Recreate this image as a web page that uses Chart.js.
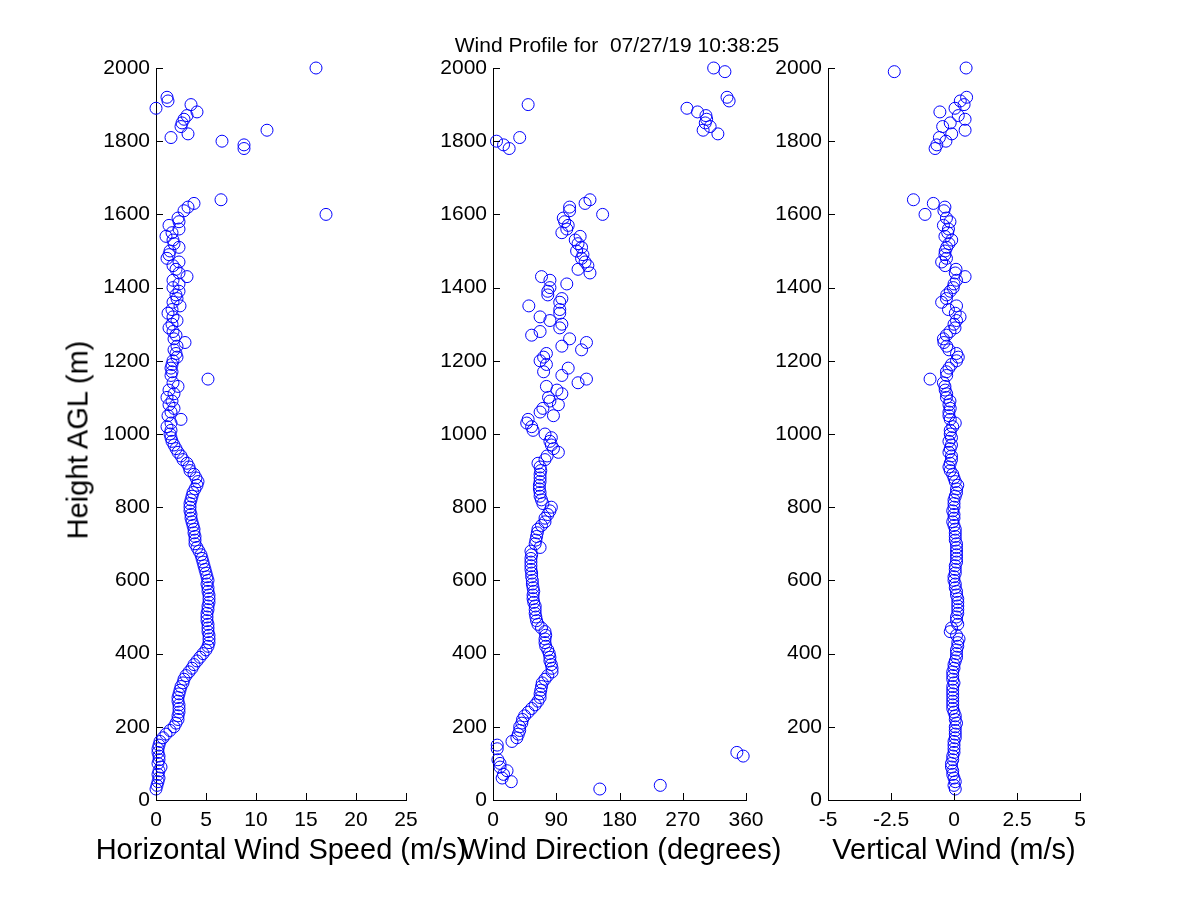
<!DOCTYPE html>
<html>
<head>
<meta charset="utf-8">
<title>Wind Profile</title>
<script src="https://cdn.jsdelivr.net/npm/chart.js@4/dist/chart.umd.min.js"></script>
<style>
  body { margin: 0; background: #fff; }
  #wrap { position: relative; width: 1200px; height: 900px; font-family: "Liberation Sans", Arial, sans-serif; color: #000; }
  #wrap canvas { position: absolute; left: 0; top: 0; }
  .lbl { position: absolute; white-space: pre; line-height: 1; }
  .main { font-size: 21px; top: 34px; left: 617px; transform: translateX(-50%); }
  .xt { font-size: 29px; top: 835px; transform: translateX(-50%); }
  .yt { font-size: 29px; left: 78px; top: 440px; transform: translate(-50%, -50%) rotate(-90deg); }
</style>
</head>
<body>
<div id="wrap">
  <canvas id="speedChart" width="1200" height="900"></canvas>
  <canvas id="dirChart" width="1200" height="900"></canvas>
  <canvas id="vertChart" width="1200" height="900"></canvas>
  <div class="lbl main">Wind Profile for  07/27/19 10:38:25</div>
  <div class="lbl yt">Height AGL (m)</div>
  <div class="lbl xt" style="left:281px">Horizontal Wind Speed (m/s)</div>
  <div class="lbl xt" style="left:621px">Wind Direction (degrees)</div>
  <div class="lbl xt" style="left:954px">Vertical Wind (m/s)</div>
</div>
<script>
// Heights of the profile (m)
const heights = [
  30, 40, 50, 60, 70, 80, 90, 100,
  110, 120, 130, 140, 150, 160, 170, 180, 190, 200,
  210, 220, 230, 240, 250, 260, 270, 280, 290, 300,
  310, 320, 330, 340, 350, 360, 370, 380, 390, 400,
  410, 420, 430, 440, 450, 460, 470, 480, 490, 500,
  510, 520, 530, 540, 550, 560, 570, 580, 590, 600,
  610, 620, 630, 640, 650, 660, 670, 680, 690, 700,
  710, 720, 730, 740, 750, 760, 770, 780, 790, 800,
  810, 820, 830, 840, 850, 860, 870, 880, 890, 900,
  910, 920, 930, 940, 950, 960, 970, 980, 990, 1000,
  1010, 1020, 1030, 1040, 1050, 1060, 1070, 1080, 1090, 1100,
  1110, 1120, 1130, 1140, 1150, 1160, 1170, 1180, 1190, 1200,
  1210, 1220, 1230, 1240, 1250, 1260, 1270, 1280, 1290, 1300,
  1310, 1320, 1330, 1340, 1350, 1360, 1370, 1380, 1390, 1400,
  1410, 1420, 1430, 1440, 1450, 1460, 1470, 1480, 1490, 1500,
  1510, 1520, 1530, 1540, 1550, 1560, 1570, 1580, 1590, 1600,
  1610, 1620, 1630, 1640,
  1780, 1790, 1800, 1810, 1820, 1830, 1840, 1850, 1860, 1870, 1880, 1890, 1900, 1910, 1920,
  1990, 2000
];

// Horizontal wind speed (m/s)
const speed = [
  0.0, 0.1, 0.2, 0.3, 0.2, 0.3, 0.5, 0.2,
  0.3, 0.3, 0.2, 0.2, 0.3, 0.4, 0.7, 1.0, 1.4, 1.8,
  2.0, 2.2, 2.2, 2.3, 2.3, 2.3, 2.2, 2.2, 2.3, 2.4,
  2.5, 2.7, 2.8, 3.0, 3.3, 3.6, 3.8, 4.1, 4.4, 4.7,
  5.0, 5.2, 5.3, 5.3, 5.3, 5.2, 5.2, 5.2, 5.1, 5.1,
  5.1, 5.2, 5.2, 5.3, 5.3, 5.3, 5.2, 5.2, 5.1, 5.2,
  5.1, 5.0, 4.9, 4.8, 4.7, 4.6, 4.5, 4.3, 4.1, 3.9,
  3.9, 3.9, 3.8, 3.8, 3.7, 3.6, 3.5, 3.5, 3.4, 3.4,
  3.4, 3.5, 3.6, 3.7, 3.9, 4.1, 4.2, 4.0, 3.8, 3.4,
  3.3, 3.1, 2.7, 2.5, 2.2, 2.0, 1.8, 1.6, 1.5, 1.4,
  1.5, 1.1, 1.5, 2.5, 1.2, 1.5, 1.8, 1.3, 1.6, 1.1,
  1.8, 1.3, 2.2, 1.7, 5.2, 1.5, 1.6, 1.5, 1.6, 1.7,
  2.1, 2.0, 1.8, 2.1, 2.9, 1.8, 2.0, 1.7, 1.3, 1.6,
  2.1, 1.7, 1.2, 1.6, 2.4, 1.7, 2.1, 2.0, 2.3, 1.7,
  2.3, 1.7, 3.1, 2.3, 2.0, 1.7, 2.3, 1.1, 1.3, 1.4,
  2.3, 1.8, 1.7, 1.0, 1.6, 2.3, 1.3, 2.3, 2.2, 17.0,
  2.8, 3.2, 3.8, 6.5,
  8.8, 8.8, 6.6, 1.5, 3.2, 11.1, 2.5, 2.6, 2.8, 3.1, 4.1, 0.0, 3.5, 1.2, 1.1,
  null, 16.0
];

// Wind direction (degrees)
const direction = [
  152, 238, 26, 13, 15, 20, 10, 10,
  7, 356, 347, 6, 6, 27, 34, 36, 38, 38,
  41, 42, 45, 50, 55, 60, 64, 67, 67, 68,
  69, 70, 74, 78, 84, 84, 83, 81, 81, 80,
  78, 75, 74, 74, 75, 74, 69, 64, 62, 61,
  60, 60, 60, 58, 57, 57, 58, 57, 56, 56,
  55, 55, 54, 54, 54, 54, 55, 54, 67, 60,
  61, 62, 63, 64, 69, 74, 74, 78, 81, 83,
  71, 69, 67, 67, 66, 66, 67, 67, 67, 68,
  67, 64, 74, 77, 93, 86, 83, 81, 83, 74,
  57, 55, 48, 50, 86, 67, 71, 93, 81, 79,
  98, 91, 76, 121, 133, 98, 72, 107, 76, 67,
  72, 76, 126, 98, 133, 109, 55, 67, 95, 98,
  81, 67, 95, 95, 51, 95, 98, 78, 78, 81,
  105, 81, 69, 138, 121, 135, 131, 126, 128, 119,
  126, 121, 117, 124, 98, 105, 107, 102, 100, 156,
  109, 109, 131, 138,
  23, 15, 5, 38, 320, 299, 309, 302, 304, 303, 291, 276, 50, 336, 333,
  330, 314
];

// Vertical wind (m/s)
const vertical = [
  0.05, 0.0, 0.05, 0.0, -0.05, -0.05, -0.1, -0.1,
  -0.05, -0.05, 0.0, 0.0, 0.0, 0.0, 0.05, 0.05, 0.05, 0.05,
  0.1, 0.05, 0.05, 0.0, -0.05, -0.05, -0.05, -0.05, -0.05, -0.05,
  -0.05, 0.0, -0.05, -0.05, -0.05, 0.0, 0.0, 0.05, 0.1, 0.1,
  0.1, 0.15, 0.15, 0.2, 0.1, -0.15, -0.1, 0.15, 0.1, 0.1,
  0.15, 0.15, 0.15, 0.15, 0.15, 0.1, 0.1, 0.05, 0.05, 0.0,
  0.0, 0.05, 0.05, 0.05, 0.1, 0.1, 0.1, 0.1, 0.1, 0.1,
  0.05, 0.05, 0.05, 0.05, 0.0, -0.05, 0.0, 0.0, -0.05, 0.0,
  0.0, 0.0, 0.05, 0.1, 0.1, 0.15, 0.05, 0.0, -0.05, -0.15,
  -0.2, -0.15, -0.1, -0.1, -0.2, -0.15, -0.1, -0.2, -0.1, -0.15,
  -0.15, -0.05, 0.05, -0.15, -0.2, -0.2, -0.15, -0.2, -0.16, -0.3,
  -0.29, -0.35, -0.36, -0.42, -0.95, -0.29, -0.3, -0.2, -0.1, 0.1,
  0.17, 0.1, -0.2, -0.29, -0.4, -0.42, -0.3, -0.16, 0.04, 0.0,
  0.1, 0.24, 0.05, -0.22, 0.1, -0.49, -0.3, -0.29, -0.15, -0.03,
  0.0, 0.1, 0.44, 0.05, 0.08, -0.35, -0.49, -0.3, -0.36, -0.35,
  -0.29, -0.2, -0.09, -0.36, -0.25, -0.22, -0.42, -0.16, -0.3, -1.15,
  -0.4, -0.36, -0.82, -1.61,
  -0.75, -0.68, -0.32, -0.58, -0.09, 0.44, -0.45, -0.15, 0.44, 0.17, -0.56, 0.04, 0.4, 0.25, 0.5,
  -2.37, 0.48
];

// Tick labels
const heightTicks = [0, 200, 400, 600, 800, 1000, 1200, 1400, 1600, 1800, 2000];
const speedTicks = [0, 5, 10, 15, 20, 25];
const directionTicks = [0, 90, 180, 270, 360];
const verticalTicks = [-5, -2.5, 0, 2.5, 5];

const tickFont = { family: '"Liberation Sans", Arial, sans-serif', size: 21 };

// Tick marks drawn inside the axes, like the original
const inwardTicks = {
  id: 'inwardTicks',
  afterDraw: (chart) => {
    const { ctx, chartArea, scales } = chart;
    ctx.save();
    ctx.strokeStyle = '#000';
    ctx.lineWidth = 1;
    ctx.beginPath();
    scales.x.ticks.forEach(t => {
      const px = Math.round(scales.x.getPixelForValue(t.value)) + 0.5;
      ctx.moveTo(px, chartArea.bottom);
      ctx.lineTo(px, chartArea.bottom - 7);
    });
    scales.y.ticks.forEach(t => {
      const py = Math.round(scales.y.getPixelForValue(t.value)) + 0.5;
      ctx.moveTo(chartArea.left, py);
      ctx.lineTo(chartArea.left + 7, py);
    });
    ctx.stroke();
    ctx.restore();
  }
};

const toPoints = (values) => values
  .map((v, i) => ({ x: v, y: heights[i] }))
  .filter(p => p.x !== null);

const axis = (ticksArr, pos) => ({
  type: 'linear',
  position: pos,
  min: ticksArr[0],
  max: ticksArr[ticksArr.length - 1],
  afterBuildTicks: (scale) => { scale.ticks = ticksArr.map(v => ({ value: v })); },
  afterFit: (scale) => {
    if (pos === 'left') scale.width = 60;
    else scale.height = 100;
  },
  grid: { display: false, drawTicks: false },
  border: { display: true, color: '#000', width: 1 },
  ticks: {
    color: '#000',
    font: tickFont,
    padding: pos === 'left' ? 6 : 8,
    maxRotation: 0,
    autoSkip: false,
    callback: (v) => String(v)
  }
});

// One chart per panel; canvases overlap, chart area placed with padding
const makePanel = (id, values, xTicks, left, right) => {
  return new Chart(document.getElementById(id), {
    type: 'scatter',
    data: {
      datasets: [{
        data: toPoints(values),
        pointStyle: 'circle',
        pointRadius: 6,
        pointHoverRadius: 6,
        pointBorderWidth: 1,
        borderColor: '#0000ff',
        backgroundColor: 'rgba(0,0,0,0)',
        clip: false
      }]
    },
    options: {
      responsive: false,
      animation: false,
      devicePixelRatio: 1,
      layout: { padding: { left: left - 60, right: 1200 - right, top: 68, bottom: 0 } },
      scales: {
        x: axis(xTicks, 'bottom'),
        y: axis(heightTicks, 'left')
      },
      plugins: {
        legend: { display: false },
        tooltip: { enabled: false }
      }
    },
    plugins: [inwardTicks]
  });
};

makePanel('speedChart', speed, speedTicks, 156, 406);
makePanel('dirChart', direction, directionTicks, 493, 746);
makePanel('vertChart', vertical, verticalTicks, 828, 1080);
</script>
</body>
</html>
